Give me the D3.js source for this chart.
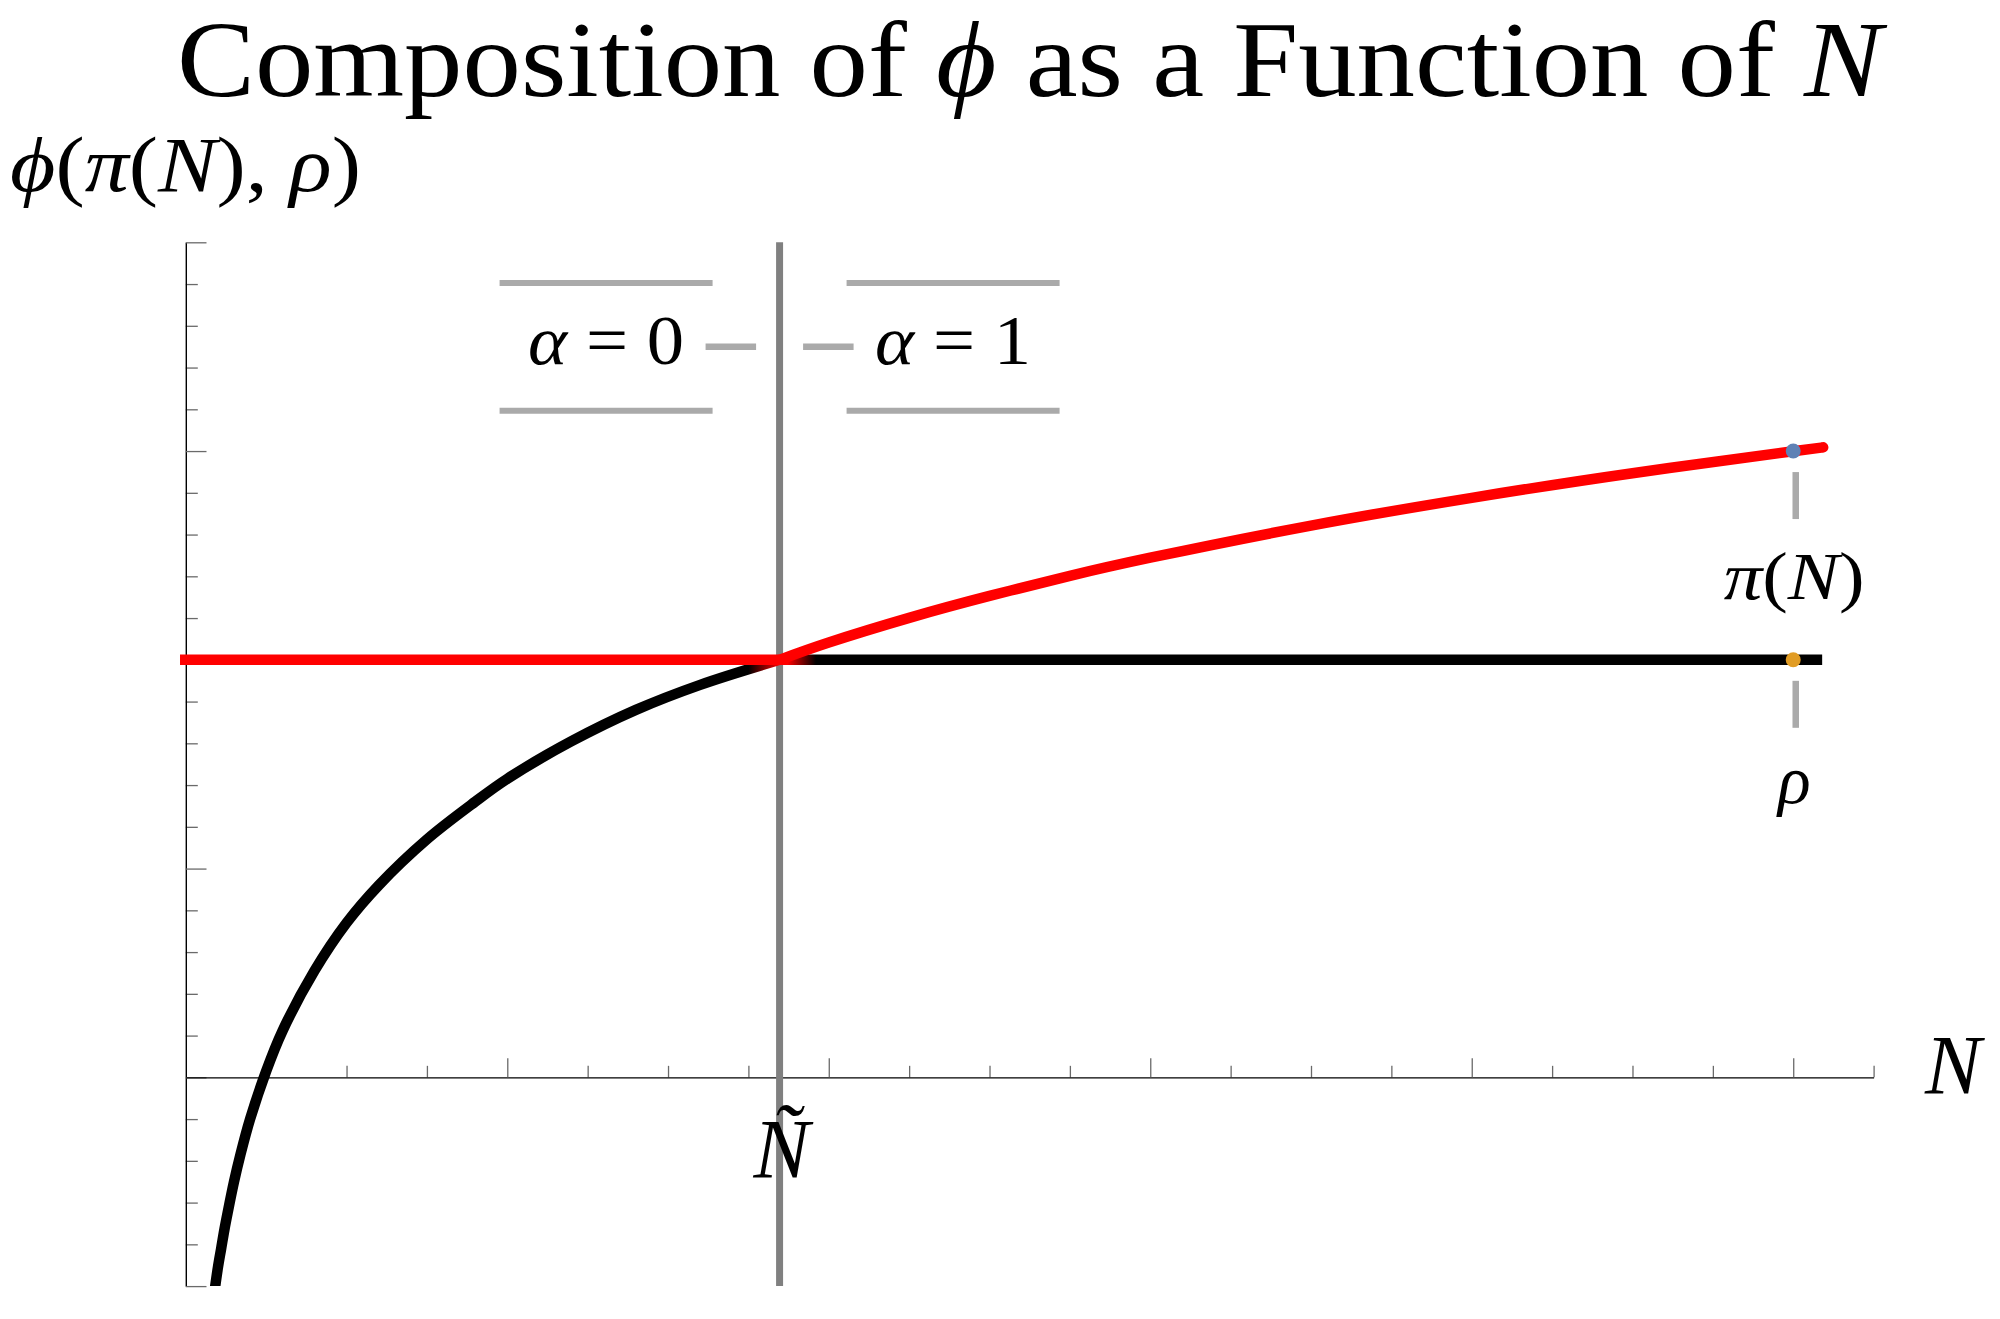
<!DOCTYPE html>
<html><head><meta charset="utf-8">
<script src="https://cdn.jsdelivr.net/npm/d3@7"></script>
<style>body{margin:0;background:#fff}</style>
</head><body>
<svg id="c" width="2000" height="1319" xmlns="http://www.w3.org/2000/svg"></svg>
<script>
// ---- data ----
const nTilde = 1.847;          // threshold Ñ
const rho = 2;                 // ρ level
const nEnd = 5.09;             // right end of the plotted curves
const redFlatStartN = -0.018;  // red flat segment starts at the left edge
// black: φ below Ñ (then constant ρ)
const blackCurveN   = [0.088, 0.10, 0.11, 0.12, 0.13, 0.15, 0.17, 0.20, 0.25, 0.30, 0.40, 0.50, 0.60, 0.75, 0.90, 1.00, 1.20, 1.40, 1.60, 1.847];
const blackCurvePhi = [-1.04, -0.91, -0.82, -0.73, -0.65, -0.50, -0.37, -0.20, 0.03, 0.22, 0.51, 0.74, 0.92, 1.14, 1.32, 1.43, 1.61, 1.76, 1.88, 2.00];
// red: constant ρ below Ñ, then π(N)
const redCurveN   = [1.847, 2.00, 2.25, 2.50, 2.75, 3.00, 3.50, 4.00, 4.50, 5.00, 5.09];
const redCurvePhi = [2.000, 2.083, 2.201, 2.306, 2.402, 2.489, 2.643, 2.776, 2.894, 2.999, 3.017];
// marked points
const markerN = 5;
const markerPi = 3.0;
// ticks
const xMajorTicks = [1, 2, 3, 4, 5];
const xMinorTicks = [0.25, 0.5, 0.75, 1.25, 1.5, 1.75, 2.25, 2.5, 2.75, 3.25, 3.5, 3.75, 4.25, 4.5, 4.75, 5.25];
const yMajorTicks = [-1, 0, 1, 2, 3, 4];
const yMinorTicks = [-0.8, -0.6, -0.4, -0.2, 0.2, 0.4, 0.6, 0.8, 1.2, 1.4, 1.6, 1.8, 2.2, 2.4, 2.6, 2.8, 3.2, 3.4, 3.6, 3.8];
const legendValues = ["0", "1"];

// ---- drawing ----
const SERIF = "'Liberation Serif','DejaVu Serif',serif";
const svg = d3.select('#c');
svg.append('rect').attr('width', 2000).attr('height', 1319).attr('fill', '#fff');

const x = d3.scaleLinear().domain([0, 5.25]).range([185.8, 1873.6]);
const y = d3.scaleLinear().domain([-1, 4]).range([1286.1, 242.3]);

const defs = svg.append('defs');
defs.append('clipPath').attr('id', 'clip').append('rect')
  .attr('x', 0).attr('width', 2000).attr('y', y(4)).attr('height', y(-1) - y(4));
const gx1 = x(1.75), gx2 = x(1.96);
const grad = defs.append('linearGradient').attr('id', 'blackGrad')
  .attr('gradientUnits', 'userSpaceOnUse').attr('x1', gx1).attr('x2', gx2).attr('y1', 0).attr('y2', 0);
grad.append('stop').attr('offset', 0).attr('stop-color', '#000');
grad.append('stop').attr('offset', (x(nTilde) - gx1) / (gx2 - gx1)).attr('stop-color', '#f00');
grad.append('stop').attr('offset', (x(nTilde) + 8 - gx1) / (gx2 - gx1)).attr('stop-color', '#f00');
grad.append('stop').attr('offset', 1).attr('stop-color', '#000');

// axes
function styleAxis(g, domainOn) {
  g.selectAll('.tick line').attr('stroke', '#6a6a6a').attr('stroke-width', 1.3);
  g.selectAll('.tick text').remove();
  if (domainOn) g.select('.domain').attr('stroke', '#000').attr('stroke-width', 1.4);
  else g.select('.domain').remove();
}
const yG = svg.append('g').attr('transform', `translate(${x(0)},0)`);
yG.append('g').call(d3.axisRight(y).tickValues(yMinorTicks).tickSize(12).tickSizeOuter(0).tickFormat('')).call(g => styleAxis(g, false));
const xG = svg.append('g').attr('transform', `translate(0,${y(0)})`);
xG.append('g').call(d3.axisTop(x).tickValues(xMinorTicks).tickSize(11.5).tickSizeOuter(0).tickFormat('')).call(g => styleAxis(g, false));
xG.append('g').call(d3.axisTop(x).tickValues(xMajorTicks).tickSize(19).tickSizeOuter(0).tickFormat('')).call(g => styleAxis(g, true));
yG.append('g').call(d3.axisRight(y).tickValues(yMajorTicks).tickSize(20.7).tickSizeOuter(0).tickFormat('')).call(g => styleAxis(g, true));

// vertical line at Ñ
svg.append('line').attr('x1', x(nTilde)).attr('x2', x(nTilde)).attr('y1', y(4)).attr('y2', y(-1))
  .attr('stroke', '#808080').attr('stroke-width', 7);

// curves
const blackGen = d3.line().x(d => x(d[0])).y(d => y(d[1])).curve(d3.curveCatmullRom.alpha(0.5));
const redGen = d3.line().x(d => x(d[0])).y(d => y(d[1])).curve(d3.curveNatural);
const blackPts = blackCurveN.map((n, i) => [n, blackCurvePhi[i]]);
const redPts = redCurveN.map((n, i) => [n, redCurvePhi[i]]);
const blackPath = blackGen(blackPts) + `L${x(nEnd)},${y(rho)}`;
const redPath = `M${x(redFlatStartN)},${y(rho)}` + redGen(redPts).replace(/^M/, 'L');
const plotG = svg.append('g').attr('clip-path', 'url(#clip)');
plotG.append('path').attr('d', blackPath).attr('fill', 'none').attr('stroke', 'url(#blackGrad)')
  .attr('stroke-width', 10.5).attr('stroke-linejoin', 'round');
plotG.append('path').attr('d', redPath).attr('fill', 'none').attr('stroke', '#f00')
  .attr('stroke-width', 10.5).attr('stroke-linejoin', 'round');

// markers + callouts on the right
const mx = x(markerN);
const calloutColor = '#aaaaaa';
[[markerPi, '#5e81b5', 'pi'], [rho, '#e19c24', 'rho']].forEach(([v, col, kind]) => {
  svg.append('line').attr('x1', mx + 2.5).attr('x2', mx + 2.5).attr('y1', y(v) + 21).attr('y2', y(v) + 68)
    .attr('stroke', calloutColor).attr('stroke-width', 6.5);
  svg.append('circle').attr('cx', mx).attr('cy', y(v)).attr('r', 7.5).attr('fill', col);
  const t = svg.append('text').attr('x', mx + 1).attr('y', y(v) + (kind === 'pi' ? 148 : 143))
    .attr('text-anchor', 'middle').attr('font-family', SERIF).attr('font-size', 68);
  if (kind === 'pi') {
    t.attr('textLength', 141).attr('lengthAdjust', 'spacingAndGlyphs');
    t.append('tspan').attr('font-style', 'italic').text('π');
    t.append('tspan').text('(');
    t.append('tspan').attr('font-style', 'italic').text('N');
    t.append('tspan').text(')');
  } else {
    t.append('tspan').attr('font-style', 'italic').text('ρ');
  }
});

// α callouts around the Ñ line
const xc = x(nTilde);
legendValues.forEach((v, i) => {
  const side = i === 0 ? -1 : 1;
  const boxNear = xc + side * 67;      // box edge nearest to the line
  const boxFar = xc + side * 280;      // far edge
  const bx0 = Math.min(boxNear, boxFar), bx1 = Math.max(boxNear, boxFar);
  [283, 410.7].forEach(yy => svg.append('line').attr('x1', bx0).attr('x2', bx1).attr('y1', yy).attr('y2', yy)
    .attr('stroke', calloutColor).attr('stroke-width', 6));
  svg.append('line').attr('x1', xc + side * 23.5).attr('x2', xc + side * 74).attr('y1', 346.7).attr('y2', 346.7)
    .attr('stroke', calloutColor).attr('stroke-width', 6.5);
  const t = svg.append('text').attr('x', (bx0 + bx1) / 2).attr('y', 364)
    .attr('text-anchor', 'middle').attr('font-family', SERIF).attr('font-size', 70)
    .attr('textLength', 156).attr('lengthAdjust', 'spacingAndGlyphs');
  t.append('tspan').attr('font-style', 'italic').text('α');
  t.append('tspan').text(' = ' + v);
});

// axis labels
svg.append('text').attr('x', xc + 2).attr('y', 1178).attr('text-anchor', 'middle')
  .attr('font-family', SERIF).attr('font-size', 84).attr('font-style', 'italic').text('Ñ');
svg.append('text').attr('x', 1925).attr('y', 1094)
  .attr('font-family', SERIF).attr('font-size', 84).attr('font-style', 'italic').text('N');

const yl = svg.append('text').attr('x', 10).attr('y', 191)
  .attr('font-family', SERIF).attr('font-size', 78)
  .attr('textLength', 351).attr('lengthAdjust', 'spacingAndGlyphs');
yl.append('tspan').attr('font-style', 'italic').text('ϕ');
yl.append('tspan').text('(');
yl.append('tspan').attr('font-style', 'italic').text('π');
yl.append('tspan').text('(');
yl.append('tspan').attr('font-style', 'italic').text('N');
yl.append('tspan').text('), ');
yl.append('tspan').attr('font-style', 'italic').text('ρ');
yl.append('tspan').text(')');

// title
const title = svg.append('text').attr('x', 177).attr('y', 96)
  .attr('font-family', SERIF).attr('font-size', 107)
  .attr('textLength', 1705).attr('lengthAdjust', 'spacingAndGlyphs');
title.append('tspan').text('Composition of ');
title.append('tspan').attr('font-style', 'italic').text('ϕ');
title.append('tspan').text(' as a Function of ');
title.append('tspan').attr('font-style', 'italic').text('N');
</script>
</body></html>
